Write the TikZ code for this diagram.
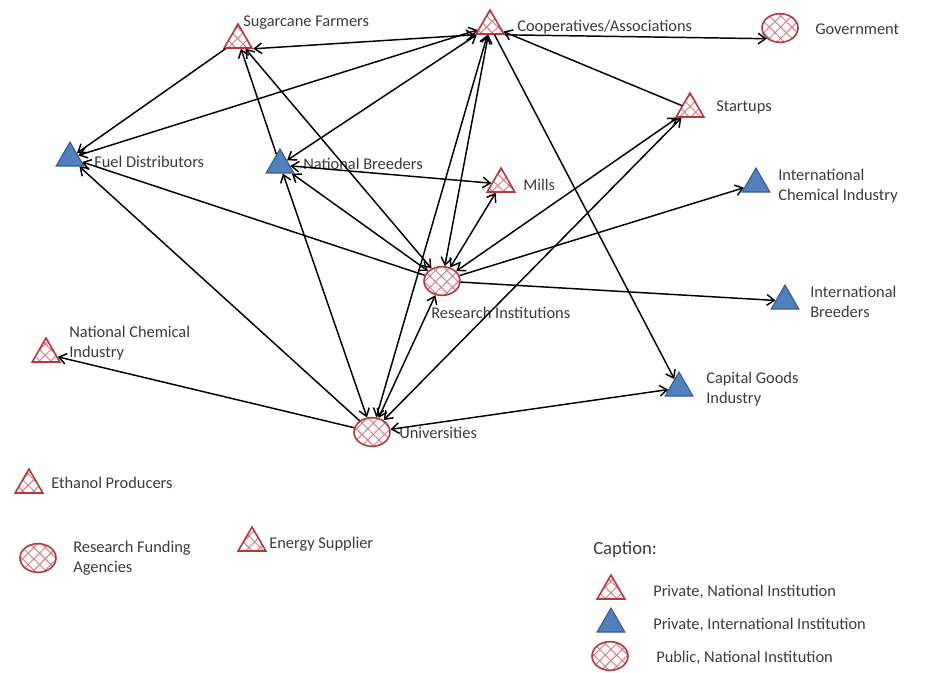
\documentclass[tikz,border=0pt]{standalone}
\usepackage{fontspec}
\setmainfont{Carlito}
\usetikzlibrary{shapes.geometric, arrows.meta, patterns.meta}

\definecolor{natred}{RGB}{176,58,62}
\definecolor{hatchred}{RGB}{222,118,128}
\definecolor{intblue}{RGB}{79,129,189}
\definecolor{intblueline}{RGB}{56,93,138}
\definecolor{labelgray}{RGB}{58,58,64}

\begin{document}
\begin{tikzpicture}[x=0.75pt, y=-0.75pt,
		hatched/.style={preaction={fill=white},
			preaction={pattern={Lines[angle=45,distance=6pt,line width=0.7pt]}, pattern color=hatchred},
			preaction={pattern={Lines[angle=-45,distance=6pt,line width=0.7pt]}, pattern color=hatchred}},
		natpriv/.style={regular polygon, regular polygon sides=3, minimum size=24pt, inner sep=0pt, draw=natred, line width=1.2pt, hatched},
		intpriv/.style={regular polygon, regular polygon sides=3, minimum size=24pt, inner sep=0pt, draw=intblueline, line width=0.8pt, fill=intblue},
		natpub/.style={ellipse, minimum width=27pt, minimum height=21.5pt, inner sep=0pt, draw=natred, line width=1.2pt, hatched},
		lbl/.style={anchor=west, inner sep=0pt, text=labelgray, font=\fontsize{12.3}{15}\selectfont, align=left},
		capt/.style={lbl, font=\fontsize{14}{16}\selectfont},
		link/.style={draw=black, line width=1.1pt, -{Straight Barb[length=5.5pt,width=8pt]}},
		dlink/.style={link, {Straight Barb[length=5.5pt,width=8pt]}-{Straight Barb[length=5.5pt,width=8pt]}}]
	\useasboundingbox (0,0) rectangle (925,672);

	\node[natpriv] (farmers) at (238,40) {};
	\node[natpriv] (coops) at (490,26) {};
	\node[natpub] (gov) at (780,28) {};
	\node[natpriv] (startups) at (690,109) {};
	\node[intpriv] (fuel) at (70,158) {};
	\node[intpriv] (breeders) at (280,165) {};
	\node[natpriv] (mills) at (501,184) {};
	\node[intpriv] (intchem) at (756,184) {};
	\node[natpub] (research) at (442,281) {};
	\node[intpriv] (intbreed) at (785,301) {};
	\node[natpriv] (natchem) at (46,354) {};
	\node[intpriv] (capital) at (679,388) {};
	\node[natpub] (unis) at (372,432) {};
	\node[natpriv] (ethanol) at (29,485) {};
	\node[natpub] (funding) at (38,558) {};
	\node[natpriv] (energy) at (252,543) {};

	\node[lbl] (farmers-t) at (243,23) {Sugarcane Farmers};
	\node[lbl] (coops-t) at (517,27) {Cooperatives/Associations};
	\node[lbl] (gov-t) at (815,29) {Government};
	\node[lbl] (startups-t) at (716,107) {Startups};
	\node[lbl] (fuel-t) at (94,162) {Fuel Distributors};
	\node[lbl] (breeders-t) at (303,164) {National Breeders};
	\node[lbl] (mills-t) at (523,185) {Mills};
	\node[lbl] (intchem-t) at (778,186) {International\\Chemical Industry};
	\node[lbl] (research-t) at (431,313) {Research Institutions};
	\node[lbl] (intbreed-t) at (810,302) {International\\Breeders};
	\node[lbl] (natchem-t) at (69,343) {National Chemical\\Industry};
	\node[lbl] (capital-t) at (706,389) {Capital Goods\\Industry};
	\node[lbl] (unis-t) at (399,433) {Universities};
	\node[lbl] (ethanol-t) at (51,483) {Ethanol Producers};
	\node[lbl] (funding-t) at (73,558) {Research Funding\\Agencies};
	\node[lbl] (energy-t) at (269,544) {Energy Supplier};

	\node[capt] (caption) at (593,550) {Caption:};
	\node[natpriv] (key-nat) at (611,591) {};
	\node[intpriv] (key-int) at (611,624) {};
	\node[natpub] (key-pub) at (610,656) {};
	\node[lbl] (key-nat-t) at (653,592) {Private, National Institution};
	\node[lbl] (key-int-t) at (653,625) {Private, International Institution};
	\node[lbl] (key-pub-t) at (656,658) {Public, National Institution};

	\draw[dlink] (farmers.corner 3) -- (coops.corner 2);
	\draw[link] (farmers) -- (fuel);
	\draw[dlink] (coops) -- (fuel);
	\draw[dlink] (coops) -- (breeders);
	\draw[link] (breeders) -- (farmers);
	\draw[dlink] (research) -- (farmers);
	\draw[link] (startups) -- (coops);
	\draw[link] (coops.corner 3) -- (gov.south west);
	\draw[link] (coops) -- (capital);
	\draw[dlink] (coops) -- (research);
	\draw[dlink] (coops) -- (unis);
	\draw[link] (research) -- (fuel);
	\draw[dlink] (research) -- (breeders);
	\draw[dlink] (breeders) -- (mills);
	\draw[dlink] (mills) -- (research);
	\draw[dlink] (research) -- (startups);
	\draw[link] (research) -- (intchem);
	\draw[link] (research) -- (intbreed);
	\draw[dlink] (research) -- (unis);
	\draw[dlink] (unis) -- (startups);
	\draw[link] (unis) -- (fuel);
	\draw[dlink] (unis) -- (breeders);
	\draw[link] (unis) -- (natchem);
	\draw[dlink] (unis) -- (capital);
\end{tikzpicture}
\end{document}
